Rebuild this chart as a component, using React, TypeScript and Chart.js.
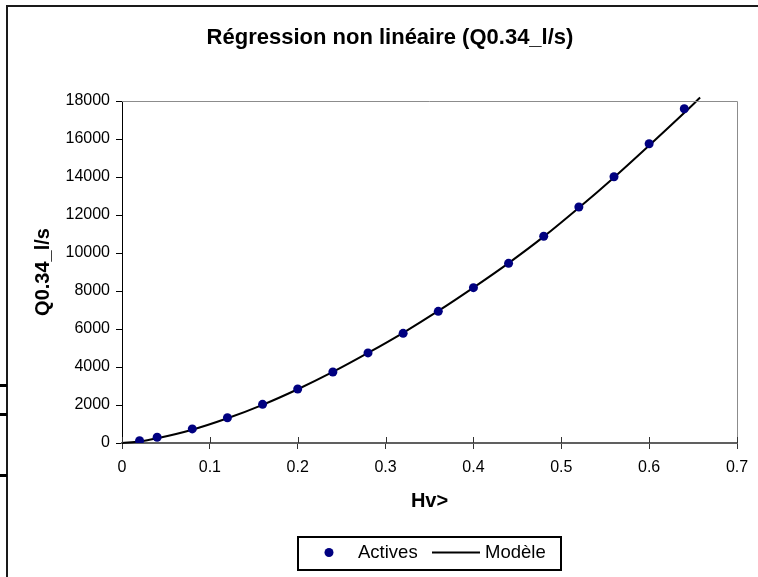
import React, { useEffect, useRef } from "react";
import { Chart, registerables } from "chart.js";

Chart.register(...registerables);

const TITLE = "Régression non linéaire (Q0.34_l/s)";
const X_TITLE = "Hv>";
const Y_TITLE = "Q0.34_l/s";
const LABEL_POINTS = "Actives";
const LABEL_MODEL = "Modèle";

const xTicks = [0, 0.1, 0.2, 0.3, 0.4, 0.5, 0.6, 0.7];
const yTicks = [0, 2000, 4000, 6000, 8000, 10000, 12000, 14000, 16000, 18000];

const hvPoints = [0.02, 0.04, 0.08, 0.12, 0.16, 0.2, 0.24, 0.28, 0.32, 0.36, 0.4, 0.44, 0.48, 0.52, 0.56, 0.6, 0.64];
const qPoints = [120, 300, 740, 1330, 2035, 2840, 3735, 4740, 5770, 6930, 8175, 9455, 10880, 12420, 14015, 15750, 17595];

const hvModel = [0, 0.02, 0.04, 0.08, 0.12, 0.16, 0.2, 0.24, 0.28, 0.32, 0.36, 0.4, 0.44, 0.48, 0.52, 0.56, 0.6, 0.64, 0.658];
const qModel = [0, 80, 250, 700, 1300, 2010, 2830, 3740, 4740, 5800, 6950, 8180, 9470, 10860, 12380, 13980, 15660, 17380, 18180];

const FONT = '"Liberation Sans", Arial, Helvetica, sans-serif';
const POINT_COLOR = "#000080";
const LINE_COLOR = "#000000";

const decorPlugin = {
  id: "decor",
  afterDraw(chart: any) {
    const { ctx, chartArea } = chart;
    ctx.save();
    // outer frame (left and top)
    ctx.fillStyle = "#1a1a1a";
    ctx.fillRect(6, 5, 2, chart.height - 5);
    ctx.fillRect(6, 5, chart.width - 6, 2);
    ctx.fillStyle = "#000";
    [384, 413, 474].forEach((y) => ctx.fillRect(0, y, 7, 3));

    // plot area top/right border
    ctx.strokeStyle = "#8c8c8c";
    ctx.lineWidth = 1;
    ctx.beginPath();
    ctx.moveTo(chartArea.left, chartArea.top + 0.5);
    ctx.lineTo(chartArea.right + 0.5, chartArea.top + 0.5);
    ctx.lineTo(chartArea.right + 0.5, chartArea.bottom);
    ctx.stroke();

    // inner part of x tick marks
    const xs = chart.scales.x;
    ctx.strokeStyle = "#333";
    ctx.beginPath();
    xs.ticks.forEach((t: any) => {
      const px = Math.round(xs.getPixelForValue(t.value)) + 0.5;
      ctx.moveTo(px, chartArea.bottom - 6);
      ctx.lineTo(px, chartArea.bottom);
    });
    ctx.stroke();

    // title
    ctx.fillStyle = "#000";
    ctx.font = `bold 22px ${FONT}`;
    ctx.textAlign = "center";
    ctx.textBaseline = "alphabetic";
    ctx.fillText(TITLE, 390, 44);

    // legend
    const ds = chart.data.datasets;
    ctx.lineWidth = 2;
    ctx.strokeStyle = "#000";
    ctx.strokeRect(298, 537, 263, 33);
    ctx.fillStyle = ds[0].backgroundColor;
    ctx.beginPath();
    ctx.arc(329, 552.5, 4.5, 0, Math.PI * 2);
    ctx.fill();
    ctx.fillStyle = "#000";
    ctx.font = `18.5px ${FONT}`;
    ctx.textAlign = "left";
    ctx.textBaseline = "middle";
    ctx.fillText(ds[0].label, 358, 553);
    ctx.strokeStyle = ds[1].borderColor;
    ctx.lineWidth = 2;
    ctx.beginPath();
    ctx.moveTo(432, 552.5);
    ctx.lineTo(480, 552.5);
    ctx.stroke();
    ctx.fillText(ds[1].label, 485, 553);
    ctx.restore();
  },
};

export default function App() {
  const ref = useRef<HTMLCanvasElement>(null);
  useEffect(() => {
    const chart = new Chart(ref.current as HTMLCanvasElement, {
      type: "scatter",
      data: {
        datasets: [
          {
            label: LABEL_POINTS,
            data: hvPoints.map((x, i) => ({ x, y: qPoints[i] })),
            backgroundColor: POINT_COLOR,
            borderColor: POINT_COLOR,
            borderWidth: 0,
            pointRadius: 4.5,
            showLine: false,
          },
          {
            label: LABEL_MODEL,
            data: hvModel.map((x, i) => ({ x, y: qModel[i] })),
            borderColor: LINE_COLOR,
            backgroundColor: LINE_COLOR,
            borderWidth: 2,
            pointRadius: 0,
            showLine: true,
            cubicInterpolationMode: "monotone",
            clip: false,
          } as any,
        ],
      },
      options: {
        responsive: false,
        animation: false,
        events: [],
        layout: { padding: { top: 101, left: 0, right: 21, bottom: 63 } },
        plugins: {
          legend: { display: false },
          title: { display: false },
          tooltip: { enabled: false },
        },
        scales: {
          x: {
            type: "linear",
            min: 0,
            max: 0.7,
            afterBuildTicks: (s: any) => {
              s.ticks = xTicks.map((v) => ({ value: v }));
            },
            afterFit: (s: any) => {
              s.height = 71;
            },
            grid: {
              drawOnChartArea: false,
              drawTicks: true,
              tickLength: 6,
              tickColor: "#333",
            },
            border: { display: true, color: "#606060", width: 2 },
            ticks: {
              color: "#000",
              font: { size: 16, family: FONT },
              padding: 9,
              maxRotation: 0,
              autoSkip: false,
              callback: (v: any) => String(v),
            },
            title: {
              display: true,
              text: X_TITLE,
              color: "#000",
              font: { size: 20, weight: "bold", family: FONT },
              padding: { top: 0, bottom: 0.5 },
            },
          },
          y: {
            type: "linear",
            min: 0,
            max: 18000,
            afterBuildTicks: (s: any) => {
              s.ticks = yTicks.map((v) => ({ value: v }));
            },
            afterFit: (s: any) => {
              s.width = 122;
            },
            grid: {
              drawOnChartArea: false,
              drawTicks: true,
              tickLength: 6,
              tickColor: "#000",
            },
            border: { display: true, color: "#000", width: 1 },
            ticks: {
              color: "#000",
              font: { size: 16, family: FONT },
              padding: 6,
              autoSkip: false,
              callback: (v: any) => String(v),
            },
            title: {
              display: true,
              text: Y_TITLE,
              color: "#000",
              font: { size: 20, weight: "bold", family: FONT },
              padding: { top: 31.5, bottom: 0 },
            },
          },
        },
      } as any,
      plugins: [decorPlugin],
    });
    return () => chart.destroy();
  }, []);
  return (
    <div style={{ position: "absolute", left: 0, top: 0, width: 758, height: 577, background: "#fff" }}>
      <canvas ref={ref} width={758} height={577} />
    </div>
  );
}
